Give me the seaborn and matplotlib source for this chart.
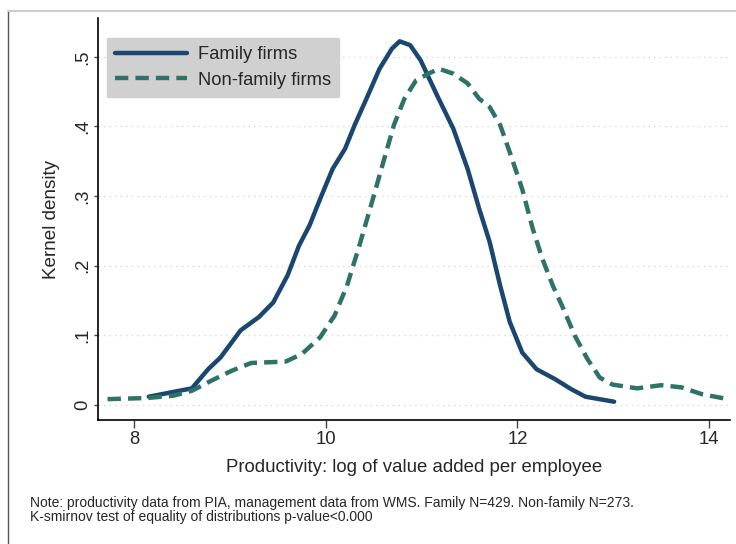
import numpy as np
import pandas as pd
import matplotlib
matplotlib.use("Agg")
from matplotlib import pyplot as plt
from matplotlib.lines import Line2D
import seaborn as sns

sns.set_style("white")
plt.rcParams['font.family'] = ['Liberation Sans', 'DejaVu Sans']

# kernel density curves
fam_x = [8.15, 8.60, 8.77, 8.90, 9.11, 9.30, 9.45, 9.60, 9.72, 9.83, 9.94, 10.07,
         10.20, 10.30, 10.43, 10.56, 10.69, 10.77, 10.88, 10.99, 11.16, 11.33, 11.48,
         11.60, 11.71, 11.82, 11.92, 12.05, 12.20, 12.39, 12.56, 12.71, 13.01]
fam_y = [0.0115, 0.0235, 0.051, 0.068, 0.107, 0.126, 0.147, 0.186, 0.229, 0.258, 0.296, 0.339,
         0.368, 0.402, 0.442, 0.483, 0.512, 0.5225, 0.517, 0.495, 0.445, 0.397, 0.339,
         0.282, 0.234, 0.171, 0.119, 0.075, 0.051, 0.037, 0.0225, 0.0115, 0.0043]

nonfam_x = [7.72, 8.13, 8.41, 8.60, 8.81, 9.02, 9.22, 9.58, 9.75, 9.94, 10.09, 10.22,
            10.35, 10.47, 10.60, 10.71, 10.82, 10.94, 11.07, 11.18, 11.33, 11.48, 11.60,
            11.71, 11.82, 11.92, 12.05, 12.16, 12.26, 12.37, 12.48, 12.60, 12.73, 12.86,
            12.99, 13.25, 13.50, 13.71, 13.93, 14.16]
nonfam_y = [0.008, 0.0096, 0.013, 0.020, 0.035, 0.049, 0.060, 0.062, 0.073, 0.097, 0.128, 0.171,
            0.229, 0.286, 0.349, 0.402, 0.440, 0.466, 0.476, 0.483, 0.476, 0.462, 0.440,
            0.428, 0.402, 0.363, 0.310, 0.253, 0.210, 0.171, 0.138, 0.099, 0.066, 0.039,
            0.029, 0.0235, 0.028, 0.025, 0.015, 0.009]

series_names = ["Family firms", "Non-family firms"]
xticks = [8, 10, 12, 14]
yticks = [0, 0.1, 0.2, 0.3, 0.4, 0.5]
ytick_labels = ["0", ".1", ".2", ".3", ".4", ".5"]

navy = "#1a476f"
teal = "#2e7268"
dash = (0, (3, 1.6))

W, H = 736, 544
fig = plt.figure(figsize=(W / 100, H / 100), dpi=100)
ax = fig.add_axes([98 / W, 1 - 420 / H, (730 - 98) / W, (420 - 18) / H])

sns.lineplot(x=fam_x, y=fam_y, ax=ax, color=navy, lw=3.2, sort=False)
sns.lineplot(x=nonfam_x, y=nonfam_y, ax=ax, color=teal, lw=3.2, sort=False,
             linestyle=dash)

ax.set_xlim(7.62, 14.22)
ax.set_ylim(-0.022, 0.556)
ax.set_xticks(xticks)
ax.set_xticklabels([str(t) for t in xticks], fontsize=13.3)
ax.set_yticks(yticks)
ax.set_yticklabels(ytick_labels, fontsize=13.3, rotation=90, va="center")
ax.tick_params(axis="x", length=6, width=1, color="#444444", direction="out",
               bottom=True, pad=2)
ax.tick_params(axis="y", length=3, width=1, color="#444444", direction="out",
               left=True, pad=2)

ax.yaxis.grid(True, linestyle=(0, (1, 3)), color="#d9d9d9", lw=1)
ax.xaxis.grid(False)
for s in ["top", "right"]:
    ax.spines[s].set_visible(False)
for s in ["left", "bottom"]:
    ax.spines[s].set_color("black")
    ax.spines[s].set_linewidth(1.2)

ax.set_xlabel("Productivity: log of value added per employee", fontsize=13.4, labelpad=8)
ax.set_ylabel("Kernel density", fontsize=13.6, labelpad=10)

handles = [Line2D([0], [0], color=navy, lw=3.2),
           Line2D([0], [0], color=teal, lw=3.2, linestyle=dash)]
leg = ax.legend(handles, series_names, loc="upper left", bbox_to_anchor=(0.014, 0.95),
                fontsize=13.2, frameon=True, fancybox=False, handlelength=3.9,
                borderpad=0.45, labelspacing=0.45, handletextpad=0.6, borderaxespad=0)
leg.get_frame().set_facecolor("#d0d0d0")
leg.get_frame().set_edgecolor("#d0d0d0")
leg.get_frame().set_alpha(1)

fig.text(30 / W, 1 - 503.5 / H,
         "Note: productivity data from PIA, management data from WMS. Family N=429. Non-family N=273.",
         fontsize=10, va="center", ha="left")
fig.text(30 / W, 1 - 517 / H,
         "K-smirnov test of equality of distributions p-value<0.000",
         fontsize=10, va="center", ha="left")

# outer frame of the graph region (cropped)
fig.add_artist(Line2D([8 / W, 8 / W], [0, 1 - 11 / H], color="#555555", lw=1))
fig.add_artist(Line2D([8 / W, 1], [1 - 11 / H, 1 - 11 / H], color="#cccccc", lw=1.5))

fig.savefig("out.png", dpi=100)
